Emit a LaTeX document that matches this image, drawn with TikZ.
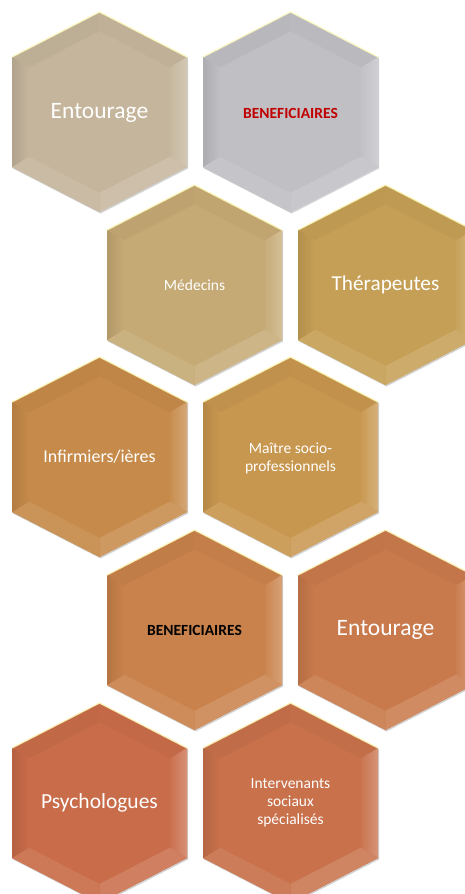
\documentclass[tikz,border=0pt]{standalone}
\usepackage{fontspec}
\setmainfont{Carlito}
\definecolor{cA}{HTML}{C5B59C}
\definecolor{cB}{HTML}{C0BFC4}
\definecolor{cC}{HTML}{C6AA75}
\definecolor{cD}{HTML}{C59F55}
\definecolor{cE}{HTML}{C68A4A}
\definecolor{cF}{HTML}{C8974F}
\definecolor{cG}{HTML}{C9824B}
\definecolor{cH}{HTML}{C97A4C}
\definecolor{cI}{HTML}{C96C49}
\definecolor{cJ}{HTML}{C8714B}
\definecolor{benred}{HTML}{C00000}
\tikzset{
  lblbig/.style={text=white, align=center, font=\fontsize{22}{26}\selectfont},
  lblmid/.style={text=white, align=center, font=\fontsize{18}{22}\selectfont},
  lblsmall/.style={text=white, align=center, font=\fontsize{15.5}{18}\selectfont},
  lblbold/.style={align=center, font=\fontsize{15.5}{18}\selectfont\bfseries},
}
\newcommand\hexcell[2]{%
 \begin{scope}[shift={#1}]
  \fill[gray!50, opacity=0.7, shift={(1,1.5)}] (0,-100) -- (87.5,-55) -- (87.5,55) -- (0,100) -- (-87.5,55) -- (-87.5,-55) -- cycle;
  \fill[#2] (0,-100) -- (87.5,-55) -- (87.5,55) -- (0,100) -- (-87.5,55) -- (-87.5,-55) -- cycle;
  \fill[#2!96!black] (-87.5,-55) -- (0,-100) -- (0,-80.9) -- (-70.5,-44.6) -- cycle;
  \fill[#2!97!black] (0,-100) -- (87.5,-55) -- (70.5,-44.6) -- (0,-80.9) -- cycle;
  \shade[left color=#2!97!white, right color=#2!75!white] (87.5,-55) -- (87.5,55) -- (70.5,44.6) -- (70.5,-44.6) -- cycle;
  \fill[#2!87!white] (87.5,55) -- (0,100) -- (0,80.9) -- (70.5,44.6) -- cycle;
  \fill[#2!92!white] (0,100) -- (-87.5,55) -- (-70.5,44.6) -- (0,80.9) -- cycle;
  \shade[left color=#2!90!black, right color=#2] (-87.5,55) -- (-87.5,-55) -- (-70.5,-44.6) -- (-70.5,44.6) -- cycle;
  \draw[yellow!25!white, line width=1.3, opacity=0.85] (-87.5,-55) -- (0,-100) -- (87.5,-55);
 \end{scope}}
\begin{document}
\begin{tikzpicture}[x=1pt,y=-1pt]
\useasboundingbox (0,0) rectangle (465,894);
\clip (0,0) rectangle (465,894);
\fill[white] (0,0) rectangle (465,894);
\hexcell{(99.5,112)}{cA}
\hexcell{(290.5,112)}{cB}
\hexcell{(194.5,285)}{cC}
\hexcell{(385.5,285)}{cD}
\hexcell{(99.5,457)}{cE}
\hexcell{(290.5,457)}{cF}
\hexcell{(194.5,630)}{cG}
\hexcell{(385.5,630)}{cH}
\hexcell{(99.5,803)}{cI}
\hexcell{(290.5,803)}{cJ}
\node[lblbig, font=\fontsize{23.5}{28}\selectfont] (n1) at (99.5,113) {Entourage};
\node[lblbold, text=benred] (n2) at (290.5,113) {BENEFICIAIRES};
\node[lblsmall] (n3) at (194.5,285) {Médecins};
\node[lblbig, font=\fontsize{21.2}{26}\selectfont] (n4) at (385.5,285) {Thérapeutes};
\node[lblmid] (n5) at (99.5,457) {Infirmiers/ières};
\node[lblsmall] (n6) at (290.5,458) {Maître socio-\\professionnels};
\node[lblbold, text=black] (n7) at (194.5,630) {BENEFICIAIRES};
\node[lblbig, font=\fontsize{23.5}{28}\selectfont] (n8) at (385.5,630) {Entourage};
\node[lblbig, font=\fontsize{21.5}{26}\selectfont] (n9) at (99.5,803) {Psychologues};
\node[lblsmall] (n10) at (290.5,803) {Intervenants\\sociaux\\spécialisés};
\end{tikzpicture}
\end{document}
